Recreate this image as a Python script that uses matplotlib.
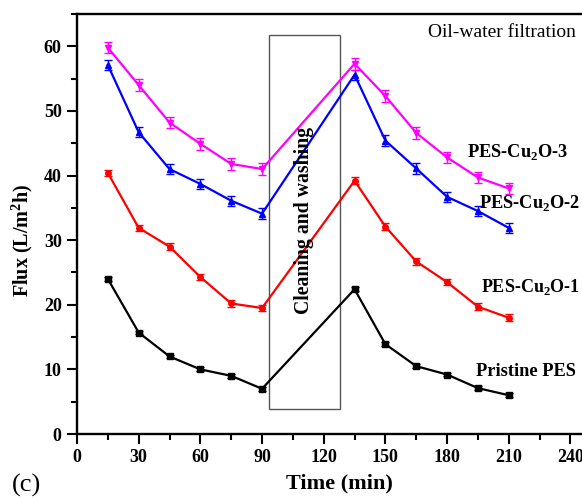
import matplotlib.pyplot as plt
from matplotlib.patches import Rectangle
from matplotlib.ticker import MultipleLocator

plt.rcParams['font.family'] = ['Liberation Serif', 'DejaVu Serif']
plt.rcParams['mathtext.fontset'] = 'custom'
plt.rcParams['mathtext.rm'] = 'Liberation Serif'
plt.rcParams['mathtext.bf'] = 'Liberation Serif:bold'

# tiempos de medicion (min)
tiempo1 = [15, 30, 45, 60, 75, 90]
tiempo2 = [135, 150, 165, 180, 195, 210]

# flujo de cada membrana
pristine = [24.0, 15.7, 12.0, 10.0, 9.0, 7.0, 22.4, 13.9, 10.5, 9.2, 7.1, 6.0]
cu2o_1 = [40.4, 31.9, 29.0, 24.3, 20.2, 19.5, 39.2, 32.1, 26.7, 23.5, 19.7, 18.0]
cu2o_2 = [57.1, 46.7, 41.0, 38.7, 36.1, 34.1, 55.6, 45.4, 41.1, 36.7, 34.5, 31.9]
cu2o_3 = [59.8, 54.0, 48.2, 44.9, 41.8, 41.0, 57.3, 52.3, 46.6, 42.8, 39.7, 38.0]

err_pristine = [0.3] * 12
err_1 = [0.5] * 12
err_2 = [0.8] * 12
err_3 = [0.9] * 12

tiempo = tiempo1 + tiempo2

fig = plt.figure(figsize=(5.82, 4.98), dpi=100)
ax = fig.add_axes([77 / 582, 64 / 498, (591 - 77) / 582, (434 - 14) / 498])

series = [
    (pristine, err_pristine, 'black', 's'),
    (cu2o_1, err_1, 'red', 'o'),
    (cu2o_2, err_2, 'blue', '^'),
    (cu2o_3, err_3, 'magenta', 'v'),
]
for vals, err, color, marker in series:
    ax.errorbar(tiempo, vals, yerr=err, color=color, marker=marker, markersize=4,
                linewidth=1.6, capsize=3, elinewidth=1, capthick=1)

# caja de limpieza
ax.add_patch(Rectangle((93.3, 3.9), 34.6, 57.8, fill=False, edgecolor='#555555', linewidth=1))
ax.text(110.4, 33.1, 'Cleaning and washing', rotation=90, ha='center', va='center',
        fontsize=14.2, fontweight='bold')

ax.text(189.6, 43.6, 'PES-Cu$_\\mathbf{2}$O-3', fontsize=13.2, fontweight='bold', va='center')
ax.text(195.4, 35.8, 'PES-Cu$_\\mathbf{2}$O-2', fontsize=13.2, fontweight='bold', va='center')
ax.text(196.7, 22.8, 'PES-Cu$_\\mathbf{2}$O-1', fontsize=13, fontweight='bold', va='center')
ax.text(194.3, 9.6, 'Pristine PES', fontsize=13.2, fontweight='bold', va='center')
ax.text(170.5, 62.1, 'Oil-water filtration', fontsize=14, va='center')

ax.set_xlim(0, 250)
ax.set_ylim(0, 65)
ax.xaxis.set_major_locator(MultipleLocator(30))
ax.xaxis.set_minor_locator(MultipleLocator(15))
ax.yaxis.set_major_locator(MultipleLocator(10))
ax.yaxis.set_minor_locator(MultipleLocator(5))
ax.tick_params(which='major', length=7, width=1.5, labelsize=13, pad=4)
ax.tick_params(which='minor', length=4, width=1.5)
for lab in ax.get_xticklabels() + ax.get_yticklabels():
    lab.set_fontweight('bold')
for s in ax.spines.values():
    s.set_linewidth(1.7)

ax.set_xlabel('Time (min)', fontsize=16, fontweight='bold')
ax.xaxis.set_label_coords(0.51, -0.095)
ax.set_ylabel('Flux (L/m$^\\mathbf{2}$h)', fontsize=14.5, fontweight='bold')
ax.yaxis.set_label_coords(-0.082, 0.46)
fig.text(12 / 582, 1 - 485 / 498, '(c)', fontsize=19, va='center')

fig.savefig('out.png', dpi=100)
